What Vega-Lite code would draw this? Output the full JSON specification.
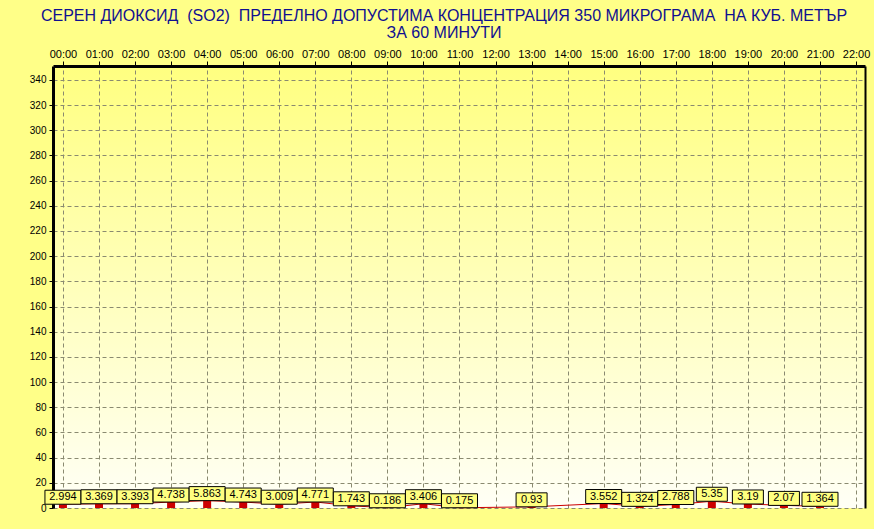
{
  "$schema": "https://vega.github.io/schema/vega-lite/v6.json",
  "width": 812,
  "height": 442,
  "autosize": {"type": "none"},
  "padding": {"left": 53, "top": 66, "right": 9, "bottom": 21},
  "background": "#FFFF88",
  "config": {
    "view": {
      "stroke": null,
      "fill": {"gradient": "linear", "x1": 0, "y1": 0, "x2": 0, "y2": 1,
        "stops": [{"offset": 0, "color": "#FFFF80"}, {"offset": 1, "color": "#FFFFF6"}]}
    },
    "axis": {
      "labelFont": "Liberation Sans",
      "labelColor": "#000000",
      "tickColor": "#000000",
      "domainColor": "#000000",
      "gridColor": "#8a8a70",
      "gridDash": [4, 3],
      "gridOpacity": 1,
      "gridWidth": 1
    }
  },
  "title": {
    "text": ["СЕРЕН ДИОКСИД \u00a0(SO2) \u00a0ПРЕДЕЛНО ДОПУСТИМА КОНЦЕНТРАЦИЯ 350 МИКРОГРАМА \u00a0НА КУБ. МЕТЪР", "ЗА 60 МИНУТИ"],
    "font": "Liberation Sans",
    "fontSize": 16,
    "fontWeight": "normal",
    "color": "#101090",
    "lineHeight": 17,
    "anchor": "middle",
    "frame": "group",
    "dx": -15,
    "offset": 7
  },
  "data": {
    "values": [
      {"hour": 0, "value": 2.994},
      {"hour": 1, "value": 3.369},
      {"hour": 2, "value": 3.393},
      {"hour": 3, "value": 4.738},
      {"hour": 4, "value": 5.863},
      {"hour": 5, "value": 4.743},
      {"hour": 6, "value": 3.009},
      {"hour": 7, "value": 4.771},
      {"hour": 8, "value": 1.743},
      {"hour": 9, "value": 0.186},
      {"hour": 10, "value": 3.406},
      {"hour": 11, "value": 0.175},
      {"hour": 13, "value": 0.93},
      {"hour": 15, "value": 3.552},
      {"hour": 16, "value": 1.324},
      {"hour": 17, "value": 2.788},
      {"hour": 18, "value": 5.35},
      {"hour": 19, "value": 3.19},
      {"hour": 20, "value": 2.07},
      {"hour": 21, "value": 1.364}
    ]
  },
  "encoding": {
    "x": {
      "field": "hour",
      "type": "quantitative",
      "scale": {"domain": [-0.137, 22.11], "nice": false, "zero": false},
      "axis": {
        "orient": "top",
        "values": [0,1,2,3,4,5,6,7,8,9,10,11,12,13,14,15,16,17,18,19,20,21,22],
        "labelExpr": "(datum.value < 10 ? '0' : '') + datum.value + ':00'",
        "title": null,
        "domainWidth": 3,
        "tickSize": 5,
        "labelPadding": 2,
        "labelFontSize": 11,
        "labelFlush": false,
        "labelOverlap": false,
        "grid": true
      }
    }
  },
  "layer": [
    {
      "mark": {"type": "bar", "color": "#CC0000", "width": 8},
      "encoding": {
        "y": {
          "field": "value",
          "type": "quantitative",
          "scale": {"domain": [0, 351], "nice": false},
          "axis": {
            "orient": "left",
            "values": [0,20,40,60,80,100,120,140,160,180,200,220,240,260,280,300,320,340],
            "title": null,
            "domainWidth": 3,
            "tickSize": 4,
            "labelPadding": 3,
            "labelFontSize": 10,
            "grid": true
          }
        }
      }
    },
    {
      "mark": {"type": "line", "color": "#CC0000", "strokeWidth": 1},
      "encoding": {
        "y": {
          "field": "value",
          "type": "quantitative",
          "axis": {"orient": "right", "title": null, "labels": false, "ticks": false, "grid": false, "domainWidth": 2, "domainColor": "#000000"}
        }
      }
    },
    {
      "transform": [{"filter": "length(toString(datum.value)) > 4"}],
      "mark": {"type": "bar", "width": 36, "fill": "#FFFF80", "stroke": "#000000", "strokeWidth": 1, "yOffset": -14},
      "encoding": {
        "y": {"field": "value", "type": "quantitative", "axis": null},
        "y2": {"field": "value"}
      }
    },
    {
      "transform": [{"filter": "length(toString(datum.value)) <= 4"}],
      "mark": {"type": "bar", "width": 31, "fill": "#FFFF80", "stroke": "#000000", "strokeWidth": 1, "yOffset": -14},
      "encoding": {
        "y": {"field": "value", "type": "quantitative", "axis": null},
        "y2": {"field": "value"}
      }
    },
    {
      "mark": {"type": "text", "dy": -7, "fontSize": 11, "font": "Liberation Sans", "color": "#000000", "baseline": "middle", "align": "center"},
      "encoding": {
        "y": {"field": "value", "type": "quantitative", "axis": null},
        "text": {"field": "value", "type": "nominal"}
      }
    }
  ],
  "resolve": {"axis": {"y": "independent"}}
}
